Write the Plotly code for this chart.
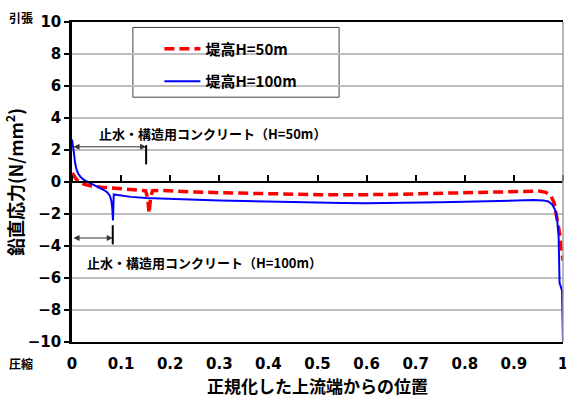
import plotly.graph_objects as go

# Normalized position from the upstream face (0 = upstream, 1 = downstream)
x_h50 = [0, 0.003, 0.008, 0.015, 0.025, 0.04, 0.06, 0.08, 0.1, 0.12, 0.14, 0.15,
         0.154, 0.157, 0.16, 0.164, 0.18, 0.2, 0.25, 0.3, 0.35, 0.4, 0.45, 0.5,
         0.55, 0.6, 0.65, 0.7, 0.75, 0.8, 0.85, 0.9, 0.93, 0.95, 0.965, 0.975,
         0.982, 0.988, 0.993, 0.997, 1.0]
sv_h50 = [0.55, 0.45, 0.2, 0.0, -0.15, -0.25, -0.32, -0.37, -0.4, -0.43, -0.48, -0.55,
          -1.0, -1.95, -1.0, -0.55, -0.53, -0.57, -0.62, -0.67, -0.71, -0.74, -0.77, -0.79,
          -0.8, -0.8, -0.78, -0.74, -0.7, -0.66, -0.62, -0.58, -0.56, -0.57, -0.65, -0.85,
          -1.3, -2.2, -3.2, -4.2, -4.9]

x_h100 = [0, 0.002, 0.004, 0.006, 0.009, 0.013, 0.018, 0.025, 0.035, 0.045, 0.055,
          0.065, 0.072, 0.077, 0.080, 0.082, 0.0835, 0.085, 0.09, 0.1, 0.12, 0.15,
          0.2, 0.25, 0.3, 0.35, 0.4, 0.45, 0.5, 0.55, 0.6, 0.65, 0.7, 0.75, 0.8, 0.85,
          0.9, 0.94, 0.96, 0.97, 0.978, 0.984, 0.988, 0.991, 0.993, 0.996, 0.998, 1.0]
sv_h100 = [2.65, 2.3, 1.8, 1.25, 0.8, 0.5, 0.3, 0.12, -0.05, -0.2, -0.35,
           -0.5, -0.65, -0.85, -1.15, -1.6, -2.4, -0.78, -0.8, -0.85, -0.93, -1.0,
           -1.06, -1.11, -1.15, -1.19, -1.23, -1.27, -1.3, -1.32, -1.33, -1.32, -1.3, -1.27, -1.23, -1.19,
           -1.15, -1.13, -1.15, -1.22, -1.4, -1.75, -2.3, -3.3, -6.3, -6.6, -6.8, -10]

series_names = ["堤高H=50m", "堤高H=100m"]

# Extent of the water-stop / structural concrete zone (normalized)
zone_end_h50 = 0.151
zone_end_h100 = 0.083
zone_label_h50 = "止水・構造用コンクリート（H=50m）"
zone_label_h100 = "止水・構造用コンクリート（H=100m）"

x_ticks = [0, 0.1, 0.2, 0.3, 0.4, 0.5, 0.6, 0.7, 0.8, 0.9, 1]
x_tick_text = ["0", "0.1", "0.2", "0.3", "0.4", "0.5", "0.6", "0.7", "0.8", "0.9", "1"]
y_ticks = [-10, -8, -6, -4, -2, 0, 2, 4, 6, 8, 10]

JP = "Noto Sans CJK JP"
NUM = "DejaVu Sans"

fig = go.Figure()
fig.add_trace(go.Scatter(
    x=x_h50, y=sv_h50, name=f"<b>{series_names[0]}</b>", mode="lines",
    line=dict(color="#ff0000", width=3.5, dash="10px,5px"), legendgroup="a"))
fig.add_trace(go.Scatter(
    x=x_h100, y=sv_h100, name=f"<b>{series_names[1]}</b>", mode="lines",
    line=dict(color="#0000ff", width=2), legendgroup="b"))
# carrier for the axis drawn along sigma = 0
fig.add_trace(go.Scatter(
    x=[x_ticks[0], x_ticks[-1]], y=[0, 0], xaxis="x2", mode="lines",
    line=dict(color="rgba(0,0,0,0)", width=0), showlegend=False, hoverinfo="skip"))

# zone extent arrows and end bars
for xe, ya, bar in [(zone_end_h50, 2.2, (1.1, 2.3)), (zone_end_h100, -3.5, (-2.7, -3.9))]:
    fig.add_annotation(x=xe, y=ya, ax=0, ay=ya, xref="x", yref="y", axref="x", ayref="y",
                       text="", showarrow=True, arrowhead=2, arrowside="end+start",
                       arrowsize=1.2, arrowwidth=1, arrowcolor="#333333", standoff=0)
    fig.add_shape(type="line", x0=xe, x1=xe, y0=bar[0], y1=bar[1], xref="x", yref="y",
                  line=dict(color="black", width=2))

fig.add_annotation(x=0.05, y=3.05, xref="x", yref="y", text=f"<b>{zone_label_h50}</b>", showarrow=False,
                   xanchor="left", yanchor="middle", font=dict(family=JP, size=13, color="black"))
fig.add_annotation(x=0.027, y=-5.0, xref="x", yref="y", text=f"<b>{zone_label_h100}</b>", showarrow=False,
                   xanchor="left", yanchor="middle", font=dict(family=JP, size=13, color="black"))

# tension / compression markers beside the stress axis
fig.add_annotation(x=-0.104, y=1.0, xref="paper", yref="paper", text="<b>引張</b>", showarrow=False,
                   xanchor="center", yanchor="middle", yshift=5, font=dict(family=JP, size=12, color="black"))
fig.add_annotation(x=-0.104, y=0.0, xref="paper", yref="paper", text="<b>圧縮</b>", showarrow=False,
                   xanchor="center", yanchor="middle", yshift=-21, font=dict(family=JP, size=12, color="black"))

# right border of the plot area
fig.add_shape(type="line", x0=1, x1=1, y0=0, y1=1, xref="paper", yref="paper",
              line=dict(color="#a0a0a0", width=1.5))
# legend frame
fig.add_shape(type="rect", x0=0.124, x1=0.544, y0=0.765, y1=0.983, xref="paper", yref="paper",
              line=dict(color="#404040", width=1), fillcolor="white", layer="below")

fig.update_layout(
    width=566, height=398,
    margin=dict(l=72, r=3, t=22, b=56, autoexpand=False),
    paper_bgcolor="white", plot_bgcolor="white",
    font=dict(family=NUM, color="black"),
    showlegend=True,
    legend=dict(x=0.178, y=0.967, xanchor="left", yanchor="top",
                bgcolor="rgba(0,0,0,0)", borderwidth=0,
                font=dict(family=JP, size=15, color="black"),
                tracegroupgap=10, traceorder="grouped", itemwidth=36),
    xaxis=dict(range=[0, 1], tickvals=x_ticks, ticktext=[f"<b>{t}</b>" for t in x_tick_text],
               showgrid=False, zeroline=False, showline=True, linecolor="black", linewidth=2,
               mirror=True, ticks="outside", ticklen=7, tickcolor="rgba(0,0,0,0)",
               ticklabeloverflow="allow", automargin=False,
               tickfont=dict(family=NUM, size=15, color="black"),
               title=dict(text="<b>正規化した上流端からの位置</b>", standoff=4,
                          font=dict(family=JP, size=17, color="black"))),
    xaxis2=dict(range=[0, 1], tickvals=x_ticks, overlaying="x", anchor="free", position=0.5,
                side="top", showticklabels=False, showgrid=False, zeroline=False,
                showline=True, linecolor="black", linewidth=2, automargin=False,
                ticks="outside", ticklen=6, tickwidth=1.5, tickcolor="black"),
    yaxis=dict(range=[-10, 10], tickvals=y_ticks, ticktext=[f"<b>{t}</b>".replace("-", "\u2212") for t in y_ticks],
               showgrid=True, gridcolor="#bfbfbf", gridwidth=1.5, automargin=False,
               zeroline=False, showline=True, linecolor="black", linewidth=2.5,
               ticks="outside", ticklen=5, tickwidth=1.5, tickcolor="black",
               tickfont=dict(family=NUM, size=15, color="black"),
               title=dict(text="<b>鉛直応力(N/mm<sup>2</sup>)</b>", standoff=4,
                          font=dict(family=JP, size=18, color="black"))),
)

fig.write_html("out.html")
